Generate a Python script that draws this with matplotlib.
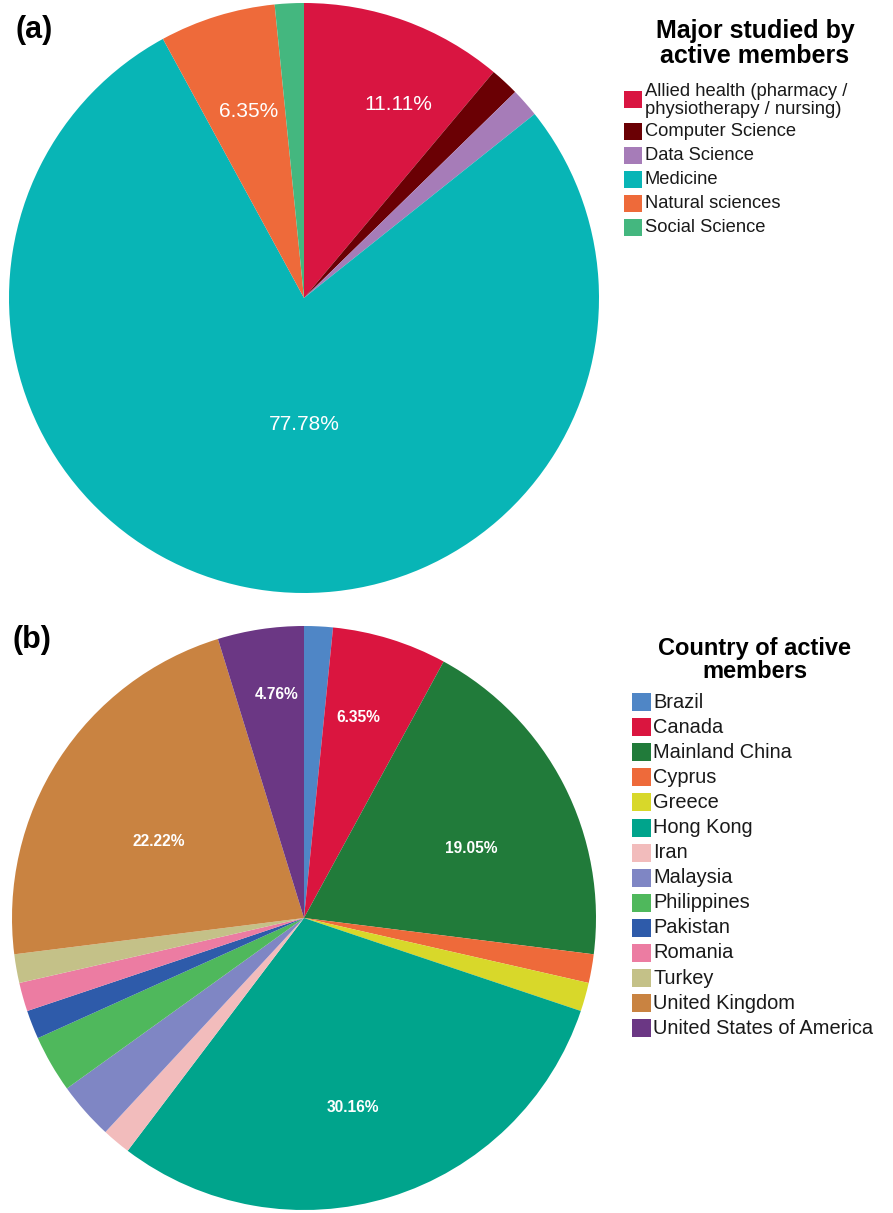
import numpy as np
import matplotlib
matplotlib.use("Agg")
import matplotlib.pyplot as plt
from matplotlib.patches import Rectangle

plt.rcParams['font.family'] = ['Liberation Sans', 'DejaVu Sans']

# ---------------- data ----------------
major_labels = ["Allied health (pharmacy /\nphysiotherapy / nursing)", "Computer Science",
                "Data Science", "Medicine", "Natural sciences", "Social Science"]
major_counts = [7, 1, 1, 49, 4, 1]
major_colors = ["#D91541", "#6A0004", "#A67CB8", "#08B5B6", "#EE6A3A", "#44B77F"]

country_labels = ["Brazil", "Canada", "Mainland China", "Cyprus", "Greece", "Hong Kong",
                  "Iran", "Malaysia", "Philippines", "Pakistan", "Romania", "Turkey",
                  "United Kingdom", "United States of America"]
country_counts = [1, 4, 12, 1, 1, 19, 1, 2, 2, 1, 1, 1, 14, 3]
country_colors = ["#4F86C6", "#DA153F", "#217B3A", "#EE6A3A", "#D8D82A", "#00A48C",
                  "#F2BCBC", "#7F86C4", "#4FB85C", "#2E5BAA", "#EC7CA2", "#C4C188",
                  "#C98341", "#6B3784"]

# which slices get a percentage label, with (radius fraction, angle clockwise from top)
major_label_place = {0: (0.73, 25.9), 4: (0.66, -16.5), 3: (0.43, 180.0)}
country_label_place = {13: (0.77, -6.9), 1: (0.71, 15.2), 2: (0.62, 67.3),
                       5: (0.67, 165.5), 12: (0.56, -62.3)}

W, H = 893, 1213
fig = plt.figure(figsize=(W / 100, H / 100), dpi=100)


def px_axes(cx, cy, r):
    return fig.add_axes([(cx - r) / W, 1 - (cy + r) / H, 2 * r / W, 2 * r / H])


def draw_pie(ax, counts, colors, places, fs, weight):
    ax.pie(counts, colors=colors, startangle=90, counterclock=False, radius=1.0,
           wedgeprops=dict(linewidth=0))
    ax.set_xlim(-1, 1)
    ax.set_ylim(-1, 1)
    ax.set_aspect('equal')
    ax.axis('off')
    total = sum(counts)
    for i, (rf, ang) in places.items():
        pct = 100.0 * counts[i] / total
        a = np.deg2rad(ang)
        ax.text(rf * np.sin(a), rf * np.cos(a), f"{pct:.2f}%", color="white",
                fontsize=fs, fontweight=weight, ha='center', va='center')


ax1 = px_axes(304, 298, 295)
draw_pie(ax1, major_counts, major_colors, major_label_place, 15, 'normal')

ax2 = px_axes(304, 918, 292)
draw_pie(ax2, country_counts, country_colors, country_label_place, 11.2, 'bold')


def ftext(x, y, s, **kw):
    fig.text(x / W, 1 - y / H, s, **kw)


def frect(x, y, w, h, c):
    fig.patches.append(Rectangle((x / W, 1 - (y + h) / H), w / W, h / H,
                                 transform=fig.transFigure, facecolor=c,
                                 edgecolor='none'))


# panel letters
ftext(34, 30, "(a)", fontsize=22, fontweight='bold', ha='center', va='center')
ftext(32, 640, "(b)", fontsize=22, fontweight='bold', ha='center', va='center')

# legend (a)
ftext(755, 31, "Major studied by", fontsize=18, fontweight='bold', ha='center', va='center')
ftext(755, 56, "active members", fontsize=18, fontweight='bold', ha='center', va='center')
ya = [100, 132, 156, 180, 204, 228]
for lab, col, y in zip(major_labels, major_colors, ya):
    frect(624, y - 9, 18, 17, col)
    if "\n" in lab:
        l1, l2 = lab.split("\n")
        ftext(645, y - 9, l1, fontsize=13.2, ha='left', va='center', color='#1a1a1a')
        ftext(645, y + 9, l2, fontsize=13.2, ha='left', va='center', color='#1a1a1a')
    else:
        ftext(645, y, lab, fontsize=13.2, ha='left', va='center', color='#1a1a1a')

# legend (b)
ftext(755, 648, "Country of active", fontsize=17, fontweight='bold', ha='center', va='center')
ftext(755, 671, "members", fontsize=17, fontweight='bold', ha='center', va='center')
y0, dy = 702, 25.1
for k, (lab, col) in enumerate(zip(country_labels, country_colors)):
    y = y0 + k * dy
    frect(632, y - 9, 19, 18, col)
    ftext(653, y, lab, fontsize=14.4, ha='left', va='center', color='#1a1a1a')

fig.savefig("out.png", dpi=100, facecolor='white')
